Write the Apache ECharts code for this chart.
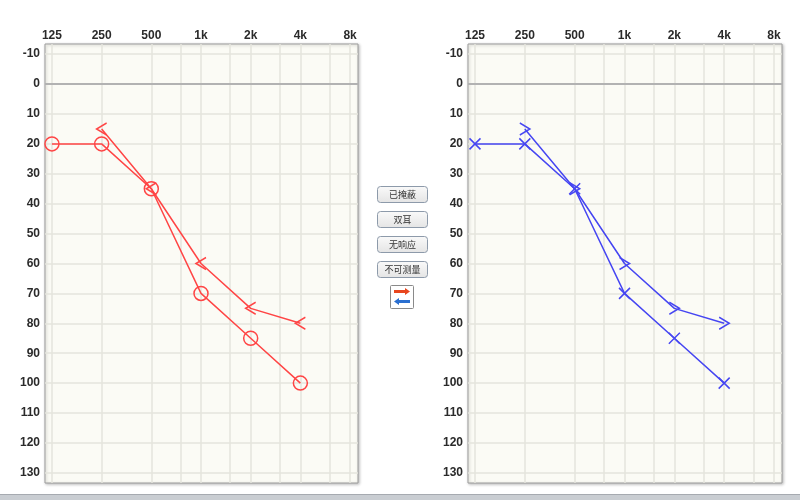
<!DOCTYPE html>
<html><head><meta charset="utf-8">
<script src="https://cdn.jsdelivr.net/npm/echarts@6/dist/echarts.min.js"></script>
<style>html,body{margin:0;padding:0;background:#fff}#c{width:800px;height:500px}</style>
</head><body><div id="c"></div>
<script>
// ---- data ----
const freqs = [125, 250, 500, 1000, 2000, 4000, 8000];
const freqLabels = ['125', '250', '500', '1k', '2k', '4k', '8k'];
const midFreqs = [750, 1500, 3000, 6000];
const dbTicks = [-10, 0, 10, 20, 30, 40, 50, 60, 70, 80, 90, 100, 110, 120, 130];
const acFreqs = [125, 250, 500, 1000, 2000, 4000];
const bcFreqs = [250, 500, 1000, 2000, 4000];
const redAC = [20, 20, 35, 70, 85, 100];
const redBC = [15, 35, 60, 75, 80];
const blueAC = [20, 20, 35, 70, 85, 100];
const blueBC = [15, 35, 60, 75, 80];
const buttonLabels = ['已掩蔽', '双耳', '无响应', '不可测量'];

// ---- helpers ----
const oct = f => Math.log2(f / 125);
const pairs = (fs, vs) => fs.map((f, i) => [oct(f), vs[i]]);
const RED = '#ff4545', BLUE = '#4646f2';
const gridLinePos = freqs.concat(midFreqs).map(oct);
const labelPos = freqs.map(oct);

function makeX(idx) {
  return {
    type: 'value', gridIndex: idx, position: 'top', min: -0.14, max: 6.16,
    axisLine: { show: false },
    axisTick: { show: false, customValues: gridLinePos },
    axisLabel: {
      customValues: labelPos, margin: 2,
      formatter: v => freqLabels[Math.round(v)],
      fontFamily: 'Liberation Sans', fontSize: 12, fontWeight: 'bold', color: '#2a2a2a'
    },
    splitLine: { show: true, lineStyle: { color: '#e4e4dc', width: 1.5 } }
  };
}
function makeY(idx) {
  return {
    type: 'value', gridIndex: idx, inverse: true, min: -13.4, max: 133.4,
    axisLine: { show: false },
    axisTick: { show: false, customValues: dbTicks },
    axisLabel: {
      customValues: dbTicks, margin: 5,
      fontFamily: 'Liberation Sans', fontSize: 12, fontWeight: 'bold', color: '#2a2a2a'
    },
    splitLine: { show: true, lineStyle: { color: '#e4e4dc', width: 1.5 } }
  };
}
const gridBase = {
  show: true, top: 44, height: 439, backgroundColor: '#fbfbf5',
  borderColor: '#9c9c9c', borderWidth: 1,
  shadowColor: 'rgba(0,0,0,0.25)', shadowBlur: 3, shadowOffsetX: 1, shadowOffsetY: 1
};
const zeroLine = {
  silent: true, symbol: 'none', label: { show: false },
  lineStyle: { color: '#b2b2b2', width: 2, type: 'solid' },
  emphasis: { disabled: true },
  data: [{ yAxis: 0 }]
};
function lineSeries(idx, data, color, symbol, size, withZero) {
  const s = {
    type: 'line', xAxisIndex: idx, yAxisIndex: idx, data: data,
    symbol: symbol, symbolSize: size, showAllSymbol: true, animation: false,
    lineStyle: { color: color, width: 1.5 },
    itemStyle: { color: 'none', borderColor: color, borderWidth: 1.5 },
    emphasis: { disabled: true }, z: 3
  };
  if (withZero) s.markLine = zeroLine;
  return s;
}

// ---- middle buttons ----
const graphics = [];
buttonLabels.forEach((t, i) => {
  const y = 186 + i * 25;
  graphics.push({
    type: 'rect', shape: { x: 377.5, y: y + 0.5, width: 50, height: 16, r: 3 },
    style: {
      fill: new echarts.graphic.LinearGradient(0, 0, 0, 1, [
        { offset: 0, color: '#fafafa' }, { offset: 1, color: '#e4e4e4' }]),
      stroke: '#8d9aaa', lineWidth: 1
    }
  });
  graphics.push({
    type: 'text', x: 402.5, y: y + 8.5,
    style: { text: t, fill: '#333', font: '9px "Noto Sans CJK SC"', align: 'center', verticalAlign: 'middle' }
  });
});
graphics.push({ type: 'rect', shape: { x: 390.5, y: 285.5, width: 23, height: 23, r: 1 },
  style: { fill: '#fff', stroke: '#8a8a8a', lineWidth: 1 } });
graphics.push({ type: 'polygon', shape: { points: [[394, 290], [405, 290], [405, 288], [410, 291.5], [405, 295], [405, 293], [394, 293]] },
  style: { fill: '#e8461e' } });
graphics.push({ type: 'polygon', shape: { points: [[410, 300], [399, 300], [399, 298], [394, 301.5], [399, 305], [399, 303], [410, 303]] },
  style: { fill: '#2a6fd0' } });
// bottom bar
graphics.push({ type: 'rect', shape: { x: 0, y: 494, width: 800, height: 6 }, style: { fill: '#c9cdd2' } });
graphics.push({ type: 'line', shape: { x1: 0, y1: 494.5, x2: 800, y2: 494.5 }, style: { stroke: '#a6aab0', lineWidth: 1 } });

const chart = echarts.init(document.getElementById('c'), null, { renderer: 'canvas' });
chart.setOption({
  animation: false,
  backgroundColor: '#ffffff',
  grid: [Object.assign({ left: 45, width: 313 }, gridBase), Object.assign({ left: 468, width: 314 }, gridBase)],
  xAxis: [makeX(0), makeX(1)],
  yAxis: [makeY(0), makeY(1)],
  series: [
    lineSeries(0, pairs(acFreqs, redAC), RED, 'circle', 14, true),
    lineSeries(0, pairs(bcFreqs, redBC), RED, 'path://M10,0 L0,6 L10,12', [10, 12], false),
    lineSeries(1, pairs(acFreqs, blueAC), BLUE, 'path://M0,0 L10,10 M10,0 L0,10', 11, true),
    lineSeries(1, pairs(bcFreqs, blueBC), BLUE, 'path://M0,0 L10,6 L0,12', [10, 12], false)
  ],
  graphic: graphics
});
</script>
</body></html>
